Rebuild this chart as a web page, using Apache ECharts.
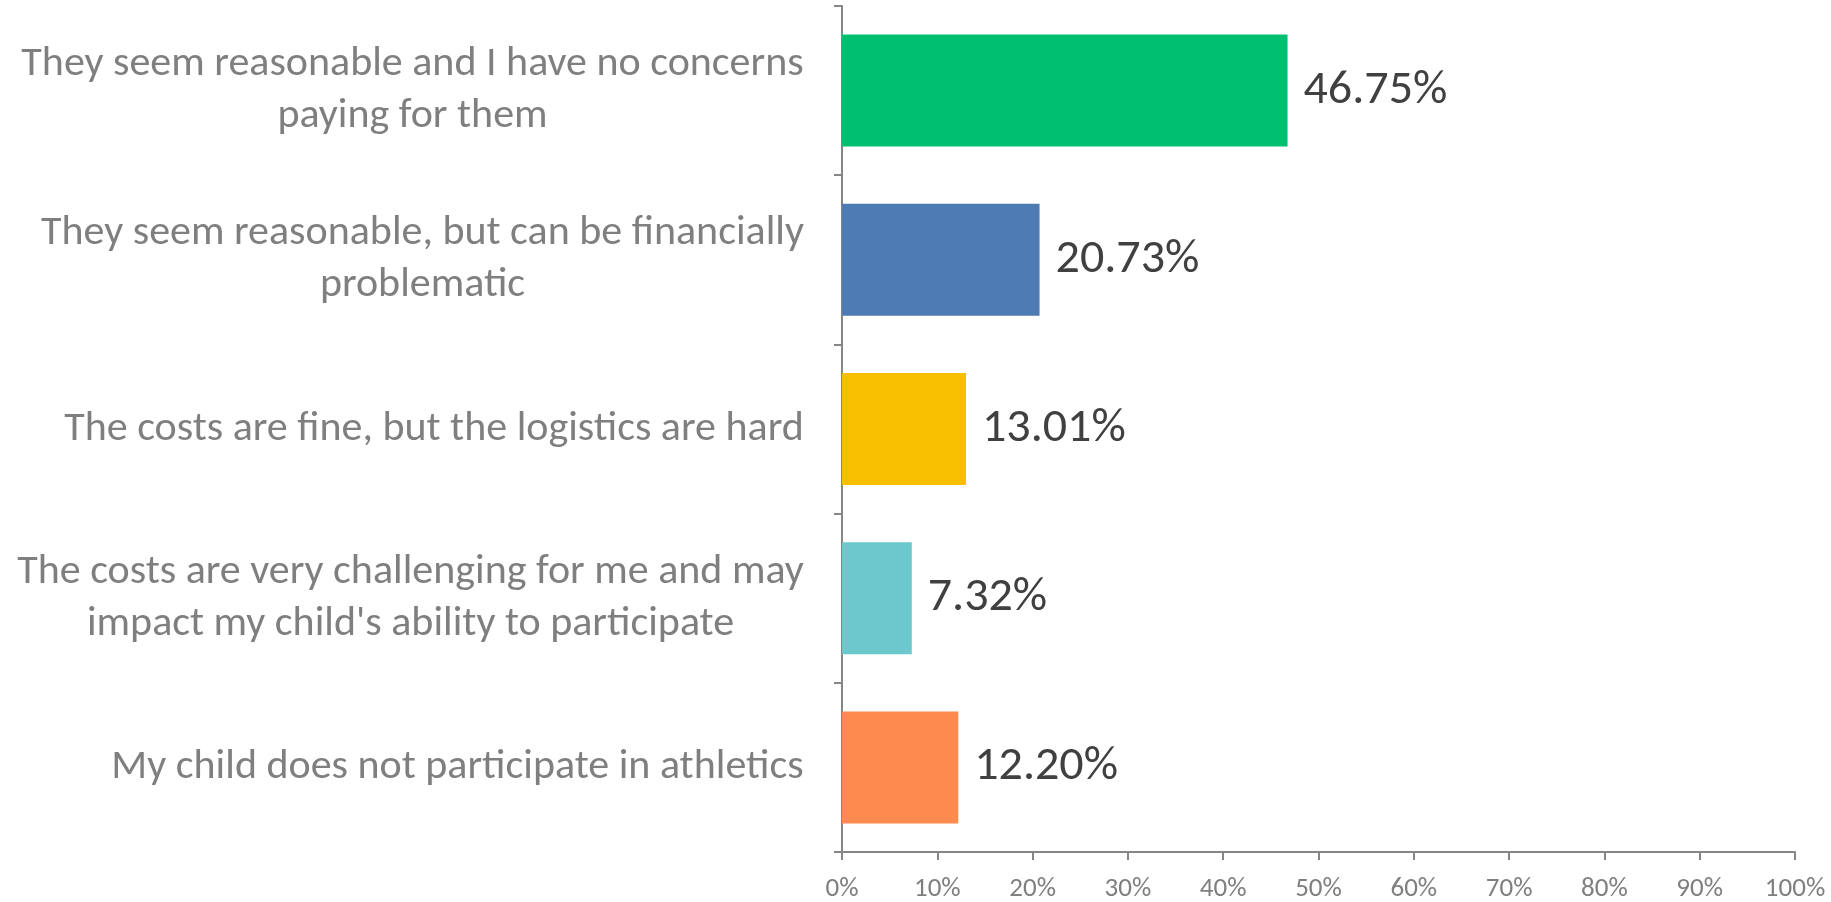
<!DOCTYPE html>
<html><head><meta charset="utf-8">
<script src="https://cdn.jsdelivr.net/npm/echarts@6/dist/echarts.min.js"></script>
<style>html,body{margin:0;padding:0;background:#fff}#c{width:1831px;height:902px}</style>
</head><body><div id="c"></div>
<script>
const categories = [
  "They seem reasonable and I have no concerns\npaying for them",
  "They seem reasonable, but can be financially\nproblematic",
  "The costs are fine, but the logistics are hard",
  "The costs are very challenging for me and may\nimpact my child's ability to participate",
  "My child does not participate in athletics"
];
const values = [46.75, 20.73, 13.01, 7.32, 12.20];
const barColors = ["#00BF6F", "#4E7BB4", "#F8BE00", "#6CC8CC", "#FF8A4F"];
const xTicks = [0, 10, 20, 30, 40, 50, 60, 70, 80, 90, 100];

const FONT = "Carlito, Calibri, Lato, sans-serif";
const catSize = 42;
// measure line widths so wrapped lines are centred on each other
const cv = document.createElement('canvas').getContext('2d');
cv.font = catSize + "px " + FONT;
const rich = {};
categories.forEach((c, i) => {
  const w = Math.max(...c.split("\n").map(l => cv.measureText(l).width));
  rich["r" + i] = {width: Math.ceil(w), align: "center", fontSize: catSize, fontFamily: FONT, color: "#7F7F7F", lineHeight: 52};
});

const chart = echarts.init(document.getElementById('c'));
chart.setOption({
  animation: false,
  grid: {left: 842, right: 36, top: 6, bottom: 50, containLabel: false, outerBoundsMode: 'none'},
  xAxis: {
    type: 'value', min: 0, max: 100, interval: 10,
    axisLine: {show: true, lineStyle: {color: '#868686', width: 2}},
    axisTick: {show: true, length: 8, lineStyle: {color: '#868686', width: 2}},
    splitLine: {show: false},
    axisLabel: {formatter: v => xTicks.includes(v) ? v + '%' : '', color: '#7F7F7F', fontSize: 27, fontFamily: FONT, margin: 24}
  },
  yAxis: {
    type: 'category', inverse: true, data: categories,
    axisLine: {show: true, lineStyle: {color: '#868686', width: 2}},
    axisTick: {show: true, length: 8, lineStyle: {color: '#868686', width: 2}},
    axisLabel: {
      margin: 38,
      formatter: (v, i) => v.split("\n").map(l => "{r" + i + "|" + l + "}").join("\n"),
      rich: rich
    }
  },
  series: [{
    type: 'bar', barWidth: 112,
    data: values.map((v, i) => ({value: v, itemStyle: {color: barColors[i]}})),
    label: {show: true, position: 'right', distance: 16, formatter: p => p.value.toFixed(2) + '%', color: '#404040', fontSize: 48, fontFamily: FONT}
  }]
});
</script></body></html>
